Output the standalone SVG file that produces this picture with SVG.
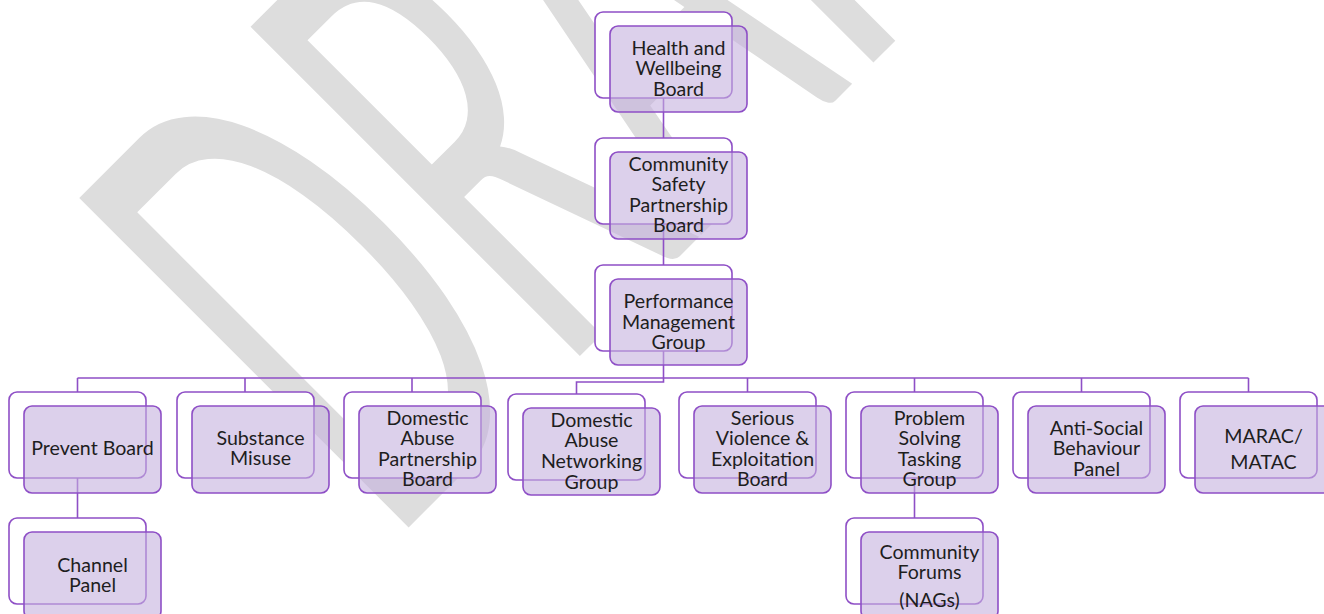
<svg xmlns="http://www.w3.org/2000/svg" width="1324" height="614" viewBox="0 0 1324 614">
<style>
.back{fill:#ffffff;stroke:#8e4fc6;stroke-width:1.6}
.front{fill:#c4b0de;fill-opacity:0.6;stroke:#8e4fc6;stroke-width:1.6}
.lbl{font-family:Lato,"Liberation Sans",sans-serif;font-size:19.6px;fill:#1e1e1e;text-anchor:middle}
.conn{stroke:#8e4fc6;stroke-width:1.6;fill:none}
.wm{font-family:Lato,"Liberation Sans",sans-serif;font-size:650px;fill:#dddddd}
</style>
<rect width="1324" height="614" fill="#ffffff"/>
<text class="wm" transform="translate(388,548) rotate(-45) scale(0.49,1)">DRAFT</text>
<g id="connectors">
<path class="conn" d="M663.5,98 V138 M663.5,224 V265 M663.5,351 V382 H576.5 V394"/>
<path class="conn" d="M77.5,378 H1248.5 M77.5,378 V392 M245,378 V392 M412,378 V392 M747.5,378 V392 M914.5,378 V392 M1081.5,378 V392 M1248.5,378 V392"/>
<path class="conn" d="M77.5,478 V518 M914.5,478 V518"/>
</g>
<g id="health">
<rect class="back" x="595" y="12" width="137" height="86" rx="8"/>
<rect class="front" x="610" y="26" width="137" height="86" rx="8"/>
<text class="lbl" x="678.5" y="54.5">Health and</text>
<text class="lbl" x="678.5" y="75">Wellbeing</text>
<text class="lbl" x="678.5" y="95.5">Board</text>
</g>
<g id="csp">
<rect class="back" x="595" y="138" width="137" height="86" rx="8"/>
<rect class="front" x="610" y="152" width="137" height="87" rx="8"/>
<text class="lbl" x="678.5" y="170.5">Community</text>
<text class="lbl" x="678.5" y="191">Safety</text>
<text class="lbl" x="678.5" y="211.5">Partnership</text>
<text class="lbl" x="678.5" y="232">Board</text>
</g>
<g id="pmg">
<rect class="back" x="595" y="265" width="137" height="86" rx="8"/>
<rect class="front" x="610" y="279" width="137" height="86" rx="8"/>
<text class="lbl" x="678.5" y="307.5">Performance</text>
<text class="lbl" x="678.5" y="328.5">Management</text>
<text class="lbl" x="678.5" y="348.5">Group</text>
</g>
<g id="prevent">
<rect class="back" x="9" y="392" width="137" height="86" rx="8"/>
<rect class="front" x="24" y="406" width="137" height="87" rx="8"/>
<text class="lbl" x="92.5" y="455">Prevent Board</text>
</g>
<g id="substance">
<rect class="back" x="177" y="392" width="137" height="86" rx="8"/>
<rect class="front" x="192" y="406" width="137" height="87" rx="8"/>
<text class="lbl" x="260.5" y="444.5">Substance</text>
<text class="lbl" x="260.5" y="464.5">Misuse</text>
</g>
<g id="dapb">
<rect class="back" x="344" y="392" width="137" height="86" rx="8"/>
<rect class="front" x="359" y="406" width="137" height="87" rx="8"/>
<text class="lbl" x="427.5" y="424.5">Domestic</text>
<text class="lbl" x="427.5" y="444.5">Abuse</text>
<text class="lbl" x="427.5" y="465.5">Partnership</text>
<text class="lbl" x="427.5" y="485.5">Board</text>
</g>
<g id="dang">
<rect class="back" x="508" y="394" width="137" height="86" rx="8"/>
<rect class="front" x="523" y="408" width="137" height="87" rx="8"/>
<text class="lbl" x="591.5" y="426.5">Domestic</text>
<text class="lbl" x="591.5" y="446.5">Abuse</text>
<text class="lbl" x="591.5" y="467.5">Networking</text>
<text class="lbl" x="591.5" y="488.5">Group</text>
</g>
<g id="sveb">
<rect class="back" x="679" y="392" width="137" height="86" rx="8"/>
<rect class="front" x="694" y="406" width="137" height="87" rx="8"/>
<text class="lbl" x="762.5" y="424.5">Serious</text>
<text class="lbl" x="762.5" y="444.5">Violence &amp;</text>
<text class="lbl" x="762.5" y="465.5">Exploitation</text>
<text class="lbl" x="762.5" y="485.5">Board</text>
</g>
<g id="pstg">
<rect class="back" x="846" y="392" width="137" height="86" rx="8"/>
<rect class="front" x="861" y="406" width="137" height="87" rx="8"/>
<text class="lbl" x="929.5" y="424.5">Problem</text>
<text class="lbl" x="929.5" y="444.5">Solving</text>
<text class="lbl" x="929.5" y="465.5">Tasking</text>
<text class="lbl" x="929.5" y="485.5">Group</text>
</g>
<g id="asb">
<rect class="back" x="1013" y="392" width="137" height="86" rx="8"/>
<rect class="front" x="1028" y="406" width="137" height="87" rx="8"/>
<text class="lbl" x="1096.5" y="435">Anti-Social</text>
<text class="lbl" x="1096.5" y="455">Behaviour</text>
<text class="lbl" x="1096.5" y="475.5">Panel</text>
</g>
<g id="marac">
<rect class="back" x="1180" y="392" width="137" height="86" rx="8"/>
<rect class="front" x="1195" y="406" width="137" height="87" rx="8"/>
<text class="lbl" x="1263.5" y="443">MARAC/</text>
<text class="lbl" x="1263.5" y="469">MATAC</text>
</g>
<g id="channel">
<rect class="back" x="9" y="518" width="137" height="86" rx="8"/>
<rect class="front" x="24" y="532" width="137" height="87" rx="8"/>
<text class="lbl" x="92.5" y="571.5">Channel</text>
<text class="lbl" x="92.5" y="591.5">Panel</text>
</g>
<g id="forums">
<rect class="back" x="846" y="518" width="137" height="86" rx="8"/>
<rect class="front" x="861" y="532" width="137" height="87" rx="8"/>
<text class="lbl" x="929.5" y="558.5">Community</text>
<text class="lbl" x="929.5" y="578.5">Forums</text>
<text class="lbl" x="929.5" y="606.5">(NAGs)</text>
</g>
</svg>
